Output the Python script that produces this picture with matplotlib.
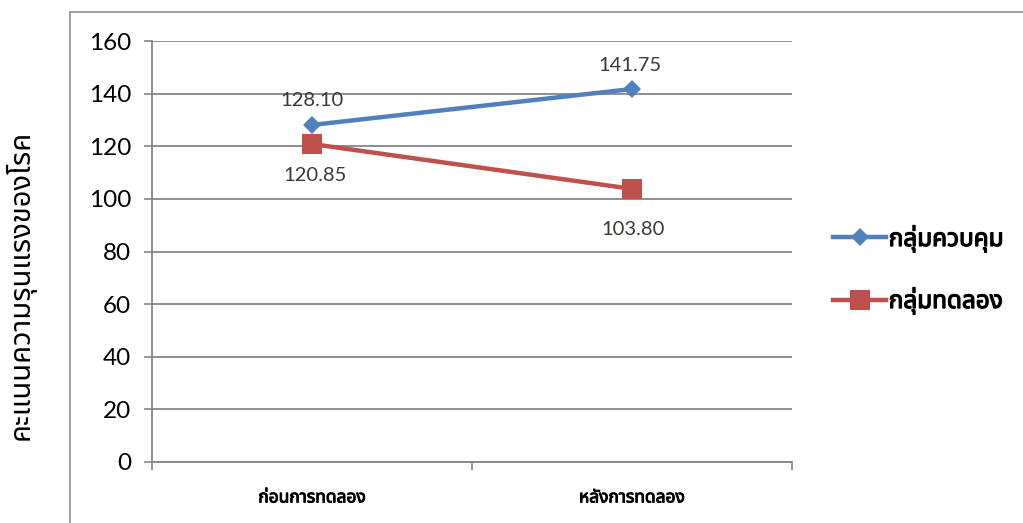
#!/usr/bin/env python3
"""
กราฟเส้นเปรียบเทียบคะแนนก่อน/หลังการทดลอง
"""
import matplotlib
matplotlib.use('Agg')
import matplotlib.pyplot as plt
import matplotlib.patheffects as pe
from matplotlib import font_manager
from matplotlib.ft2font import FT2Font
from matplotlib.patches import Rectangle
import numpy as np

# ข้อมูล
categories = ['ก่อนการทดลอง', 'หลังการทดลอง']
control_values = [128.10, 141.75]
experiment_values = [120.85, 103.80]
series_names = ['กลุ่มควบคุม', 'กลุ่มทดลอง']
y_ticks = [0, 20, 40, 60, 80, 100, 120, 140, 160]
y_label = 'คะแนนความรุนแรงของโรค'


def find_thai_font():
    """หาฟอนต์ที่มีตัวอักษรไทย"""
    names = []
    for f in font_manager.fontManager.ttflist:
        try:
            cmap = FT2Font(f.fname).get_charmap()
        except Exception:
            continue
        if 0x0E01 in cmap and 0x0E48 in cmap:
            names.append(f.name)
    for pref in ['Noto Sans Thai', 'Noto Sans Thai UI', 'Tahoma', 'Loma', 'Garuda']:
        if pref in names:
            return pref
    return names[0] if names else 'DejaVu Sans'


thai_font = find_thai_font()
num_font = 'Lato'
plt.rcParams['font.family'] = [thai_font, 'DejaVu Sans']

blue = '#4F81BD'
red = '#C0504D'
grid_color = '#868686'
label_color = '#3a3a33'

# ทำตัวหนาปลอม (ฟอนต์ไทยอาจไม่มี bold)
fake_bold = [pe.withStroke(linewidth=0.9, foreground='black')]

fig = plt.figure(figsize=(10.23, 5.23), dpi=100)
ax = fig.add_axes([152 / 1023, 1 - 462 / 523, 640 / 1023, 421 / 523])

# กรอบด้านนอก
fig.patches.append(Rectangle((70 / 1023, -0.2), 1.2, 0.977 + 0.2,
                             transform=fig.transFigure, fill=False,
                             edgecolor='#8c8c8c', linewidth=1.2, zorder=0))

x = np.arange(len(categories))
ax.plot(x, control_values, color=blue, linewidth=3.2, marker='D',
        markersize=9.5, markeredgewidth=0, label=series_names[0], zorder=3)
ax.plot(x, experiment_values, color=red, linewidth=3.2, marker='s',
        markersize=14, markeredgewidth=0, label=series_names[1], zorder=3)

ax.set_xlim(-0.5, 1.5)
ax.set_ylim(0, 160)
ax.set_yticks(y_ticks)
ax.set_yticklabels([str(v) for v in y_ticks], fontfamily=num_font, fontsize=17.5)
ax.set_xticks(x)
ax.set_xticklabels(categories, fontsize=12.5)
for t in ax.get_xticklabels():
    t.set_path_effects([pe.withStroke(linewidth=0.7, foreground='black')])
ax.set_xticks([-0.5, 0.5, 1.5], minor=True)
ax.tick_params(axis='x', which='major', length=0, pad=19)
ax.tick_params(axis='x', which='minor', length=6, width=1.2, color=grid_color)
ax.tick_params(axis='y', length=6, width=1.2, color=grid_color, pad=9)

ax.grid(axis='y', color=grid_color, linewidth=1.3)
ax.set_axisbelow(True)
for side in ['top', 'right']:
    ax.spines[side].set_visible(False)
for side in ['left', 'bottom']:
    ax.spines[side].set_color(grid_color)
    ax.spines[side].set_linewidth(1.3)

ax.set_ylabel(y_label, fontsize=21)
ax.yaxis.set_label_coords(-0.182, 0.42)

# ป้ายค่าบนจุด
offsets_control = [(0, 24), (-2, 24)]
offsets_exp = [(3, -31), (1, -41)]
for xi, v, off in zip(x, control_values, offsets_control):
    ax.annotate(f'{v:.2f}', (xi, v), xytext=off, textcoords='offset pixels',
                ha='center', va='center', fontsize=14.5, fontfamily=num_font,
                color=label_color)
for xi, v, off in zip(x, experiment_values, offsets_exp):
    ax.annotate(f'{v:.2f}', (xi, v), xytext=off, textcoords='offset pixels',
                ha='center', va='center', fontsize=14.5, fontfamily=num_font,
                color=label_color)

leg = fig.legend(loc='center left', bbox_to_anchor=(811 / 1023, 1 - 270 / 523),
                 frameon=False, prop={'size': 17.5},
                 handlelength=2.2, handletextpad=0.1, labelspacing=1.4)
for t in leg.get_texts():
    t.set_path_effects(fake_bold)

fig.savefig('out.png', dpi=100)
